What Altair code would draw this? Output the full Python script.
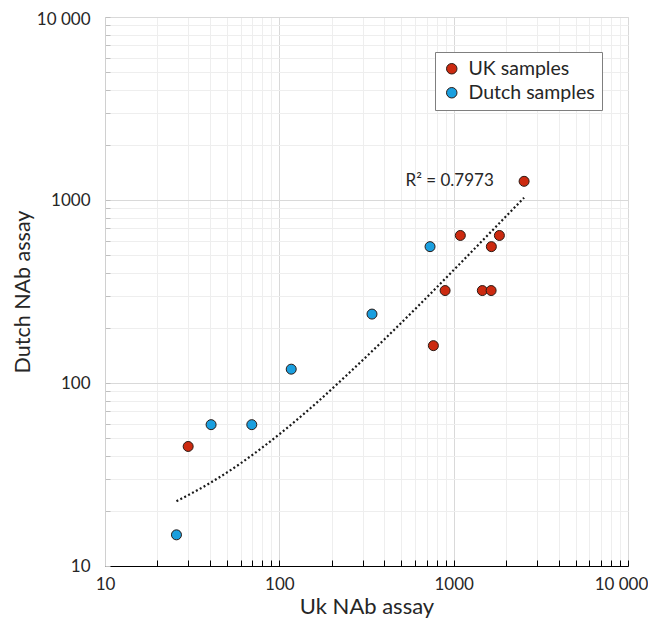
import altair as alt
import pandas as pd

# ---- data ----
UK_X = [30, 765, 893, 1092, 1460, 1640, 1645, 1829, 2535]
UK_Y = [45, 160, 320, 640, 320, 320, 556, 640, 1265]
NL_X = [25.7, 40.6, 69.5, 117, 340, 732]
NL_Y = [14.8, 59.2, 59.2, 119, 238, 556]
SERIES = ["UK samples", "Dutch samples"]
COLORS = ["#cc2a10", "#1a9fdf"]

# trendline points
TREND_X = [25.7, 40, 60, 100, 160, 250, 400, 630, 1000, 1600, 2535]
TREND_Y = [22.6, 28.4, 36.4, 52.5, 76.5, 113, 173, 265, 414, 655, 1030]

R2_TEXT = "R\u00b2 = 0.7973"
R2_X = [530]
R2_Y = [1270]

MAJOR = [10, 100, 1000, 10000]
MINOR = [20, 30, 40, 50, 60, 70, 80, 90,
         200, 300, 400, 500, 600, 700, 800, 900,
         2000, 3000, 4000, 5000, 6000, 7000, 8000, 9000]
ALL_TICKS = sorted(MAJOR + MINOR)

X_TITLE = "Uk NAb assay"
Y_TITLE = "Dutch NAb assay"

W, H = 523, 549
FONT = "Lato"
TXT = "#262626"

pts = pd.DataFrame({
    "x": UK_X + NL_X,
    "y": UK_Y + NL_Y,
    "series": [SERIES[0]] * len(UK_X) + [SERIES[1]] * len(NL_X),
})
trend = pd.DataFrame({"x": TREND_X, "y": TREND_Y})
note = pd.DataFrame({"x": R2_X, "y": R2_Y, "t": [R2_TEXT]})

xs = alt.Scale(type="log", domain=[10, 10000], nice=False)
ys = alt.Scale(type="log", domain=[10, 10000], nice=False)

major_test = "indexof([10,100,1000,10000], datum.value) >= 0"
lab_expr = ("indexof([10,100,1000,10000], datum.value) < 0 ? '' : "
            "(datum.value == 10000 ? '10 000' : '' + datum.value)")
grid_color = {"condition": {"test": major_test, "value": "#d9d9d9"}, "value": "#eeeeee"}
x_last_offset = {"condition": {"test": "datum.value == 10000", "value": -7}, "value": 0}
y_last_offset = {"condition": {"test": "datum.value == 10000", "value": 2}, "value": 0}

x_axis_main = alt.Axis(values=ALL_TICKS, labelExpr=lab_expr, grid=True, gridColor=grid_color,
                       gridWidth=1, ticks=False, domain=False, labelFontSize=17, labelFont=FONT,
                       labelColor=TXT, labelPadding=10, labelFlush=False, labelOverlap=False,
                       labelOffset=x_last_offset,
                       title=X_TITLE, titleFontSize=22, titleFont=FONT, titleFontWeight="normal",
                       titleColor=TXT, titlePadding=4)
y_axis_main = alt.Axis(values=ALL_TICKS, labelExpr=lab_expr, grid=True, gridColor=grid_color,
                       gridWidth=1, ticks=False, domain=False, labelFontSize=17, labelFont=FONT,
                       labelColor=TXT, labelPadding=15, labelFlush=False, labelOverlap=False,
                       labelOffset=y_last_offset,
                       title=Y_TITLE, titleFontSize=21.5, titleFont=FONT, titleFontWeight="normal",
                       titleColor=TXT, titlePadding=2)

x_axis_ticks = alt.Axis(orient="top", offset=-H, values=ALL_TICKS, labels=False, grid=False,
                        ticks=True, tickColor="#000000", tickSize=6, tickWidth=1,
                        domain=True, domainColor="#000000", domainWidth=1.2, title=None)
y_axis_ticks = alt.Axis(orient="right", offset=-W, values=ALL_TICKS, labels=False, grid=False,
                        ticks=True, tickColor="#bfbfbf", tickSize=5, tickWidth=1,
                        domain=True, domainColor="#d0d0d0", domainWidth=1, title=None)

points = alt.Chart(pts).mark_circle(size=100, opacity=1, stroke="#2b1a14", strokeWidth=1).encode(
    x=alt.X("x:Q", scale=xs, axis=x_axis_main),
    y=alt.Y("y:Q", scale=ys, axis=y_axis_main),
    color=alt.Color("series:N", scale=alt.Scale(domain=SERIES, range=COLORS),
                    legend=alt.Legend(title=None, orient="none", legendX=330, legendY=35,
                                      labelFont=FONT, labelFontSize=19.5, labelColor=TXT,
                                      symbolType="circle", symbolSize=110,
                                      symbolStrokeColor="#2b1a14", symbolStrokeWidth=1,
                                      symbolOpacity=1,
                                      strokeColor="#7f7f7f", fillColor="#ffffff",
                                      padding=7, rowPadding=3, labelOffset=7)),
)

line = alt.Chart(trend).mark_line(color="#1a1a1a", strokeWidth=2.2, strokeDash=[2, 2.4],
                                  strokeCap="butt", interpolate="monotone").encode(
    x=alt.X("x:Q", scale=xs, axis=x_axis_ticks),
    y=alt.Y("y:Q", scale=ys, axis=y_axis_ticks),
)

txt = alt.Chart(note).mark_text(align="left", baseline="middle", font=FONT, fontSize=17,
                                color=TXT).encode(
    x=alt.X("x:Q", scale=xs, axis=None),
    y=alt.Y("y:Q", scale=ys, axis=None),
    text="t:N",
)

chart = alt.layer(line, points, txt).resolve_axis(x="independent", y="independent").properties(
    width=W, height=H,
    autosize=alt.AutoSizeParams(type="none"),
    padding={"left": 97, "top": 9, "right": 20, "bottom": 55},
).configure_view(stroke=None).configure(background="#ffffff")

chart.save("out.html", embed_options={"renderer": "svg", "actions": False})
